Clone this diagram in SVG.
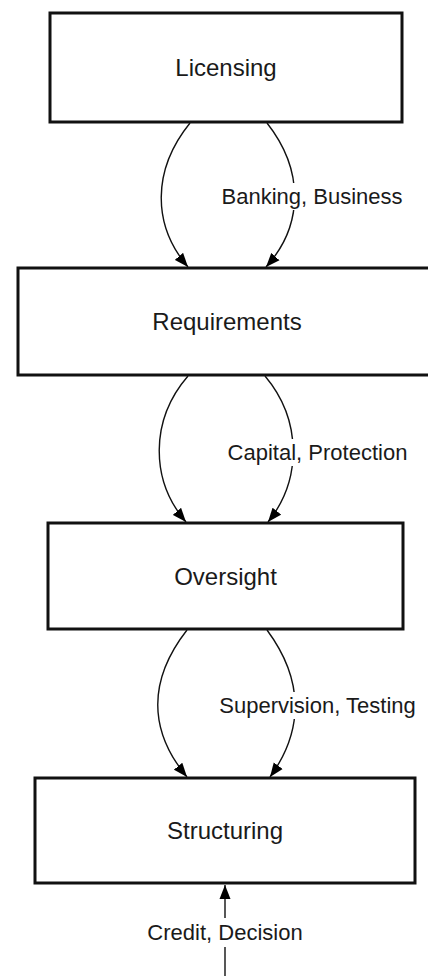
<svg xmlns="http://www.w3.org/2000/svg" width="428" height="976" viewBox="0 0 428 976">
<style>
.box{fill:#fff;stroke:#111;stroke-width:3}
.nt{font-family:"Liberation Sans",Arial,sans-serif;font-size:24px;fill:#1a1a1a;text-anchor:middle}
.lt{font-family:"Liberation Sans",Arial,sans-serif;font-size:22px;fill:#1a1a1a;text-anchor:middle}
.edge{fill:none;stroke:#111;stroke-width:1.4;marker-end:url(#ah)}
.lbg{fill:#fff}
</style>
<defs>
<marker id="ah" markerUnits="userSpaceOnUse" markerWidth="14" markerHeight="12" refX="14" refY="5.5" orient="auto" viewBox="0 0 14 11">
<path d="M0,0 L14,5.5 L0,11 z" fill="#000"/>
</marker>
</defs>
<rect width="428" height="976" fill="#fff"/>
<g id="connectors">
<path class="edge" d="M190,123 C152,170 152,225 188,267"/>
<path class="edge" d="M267,123 C304,170 304,225 266,267"/>
<path class="edge" d="M188,376 C150,420 150,480 186,522"/>
<path class="edge" d="M265,376 C302,420 302,480 268,522"/>
<path class="edge" d="M187,630 C148,680 148,730 187,777"/>
<path class="edge" d="M267,630 C304,680 304,730 270,777"/>
<path class="edge" d="M225,976 L225,885"/>
<g id="edge-labels">
<rect class="lbg" x="220" y="183" width="184" height="27"/>
<text class="lt" x="312" y="204">Banking, Business</text>
<rect class="lbg" x="226" y="439" width="183" height="27"/>
<text class="lt" x="317.5" y="460">Capital, Protection</text>
<rect class="lbg" x="218" y="692" width="199" height="27"/>
<text class="lt" x="317.5" y="713">Supervision, Testing</text>
<rect class="lbg" x="160" y="918" width="130" height="29"/>
<text class="lt" x="225" y="940">Credit, Decision</text>
</g>
</g>
<g id="licensing">
<rect class="box" x="50" y="13" width="352" height="109"/>
<text class="nt" x="226" y="76">Licensing</text>
</g>
<g id="requirements">
<rect class="box" x="18" y="268" width="418" height="107"/>
<text class="nt" x="227" y="330">Requirements</text>
</g>
<g id="oversight">
<rect class="box" x="48" y="523" width="355" height="106"/>
<text class="nt" x="225.5" y="584.5">Oversight</text>
</g>
<g id="structuring">
<rect class="box" x="35" y="778" width="380" height="105"/>
<text class="nt" x="225" y="839">Structuring</text>
</g>
</svg>
